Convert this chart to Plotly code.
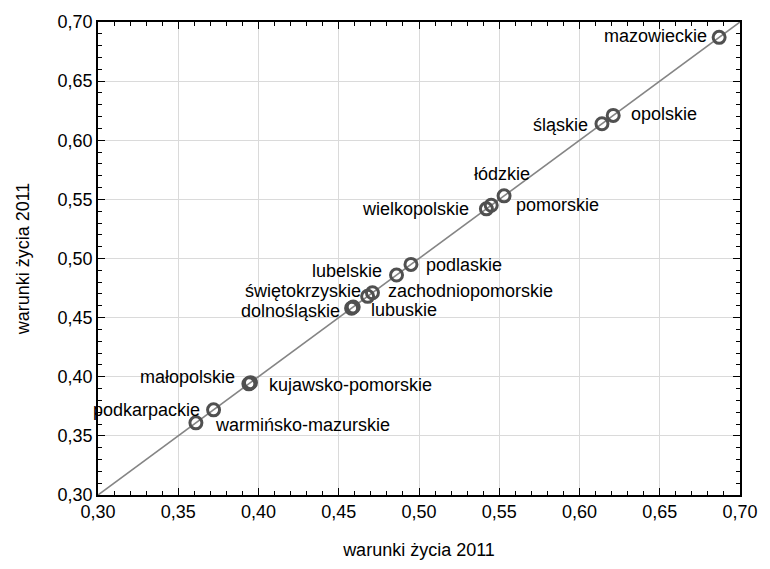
import plotly.graph_objects as go

# Voivodeship living-conditions index, 2011 (same measure on both axes)
regions = [
    "mazowieckie", "opolskie", "śląskie", "pomorskie", "łódzkie",
    "wielkopolskie", "podlaskie", "lubelskie", "zachodniopomorskie",
    "świętokrzyskie", "lubuskie", "dolnośląskie", "małopolskie",
    "kujawsko-pomorskie", "podkarpackie", "warmińsko-mazurskie",
]
warunki_2011 = [
    0.687, 0.621, 0.614, 0.553, 0.545,
    0.542, 0.495, 0.486, 0.471,
    0.468, 0.459, 0.458, 0.395,
    0.394, 0.372, 0.361,
]
tick_values = [0.30, 0.35, 0.40, 0.45, 0.50, 0.55, 0.60, 0.65, 0.70]
axis_title = "warunki życia 2011"

# label placement per point: (xanchor, yanchor, xshift, yshift)
label_place = {
    "mazowieckie": ("right", "middle", -11, 1),
    "opolskie": ("left", "middle", 17, 1),
    "śląskie": ("right", "middle", -13, -1),
    "pomorskie": ("left", "middle", 11, -9),
    "łódzkie": ("center", "bottom", 11, 20),
    "wielkopolskie": ("right", "middle", -16, 0),
    "podlaskie": ("left", "middle", 14, -1),
    "lubelskie": ("right", "middle", -14, 4),
    "zachodniopomorskie": ("left", "middle", 15, 2),
    "świętokrzyskie": ("right", "middle", -6, 5),
    "lubuskie": ("left", "middle", 17, -3),
    "dolnośląskie": ("right", "middle", -11, -3),
    "małopolskie": ("right", "middle", -14, 6),
    "kujawsko-pomorskie": ("left", "middle", 19, -1),
    "podkarpackie": ("right", "middle", -13, 0),
    "warmińsko-mazurskie": ("left", "middle", 18, -2),
}

FONT = "Liberation Sans, Arial, sans-serif"
FS = 18
lo, hi = tick_values[0], tick_values[-1]
ring = "#505050"

fig = go.Figure()

# identity line y = x
fig.add_trace(go.Scatter(
    x=[lo, hi], y=[lo, hi], mode="lines",
    line=dict(color="#858585", width=1.6),
    hoverinfo="skip", showlegend=False,
))

fig.add_trace(go.Scatter(
    x=warunki_2011, y=warunki_2011, mode="markers",
    marker=dict(symbol="circle-open", size=12, color=ring,
                line=dict(color=ring, width=3)),
    text=regions, hoverinfo="text", showlegend=False,
))

for name, v in zip(regions, warunki_2011):
    xa, ya, dx, dy = label_place[name]
    fig.add_annotation(
        x=v, y=v, text=name, showarrow=False,
        xanchor=xa, yanchor=ya, xshift=dx, yshift=dy, borderpad=0,
        font=dict(family=FONT, size=FS, color="#000000"),
    )

axis_common = dict(
    range=[lo, hi],
    tickvals=tick_values,
    tickformat=".2f",
    showline=True, linecolor="#000000", linewidth=1.6,
    mirror="ticks",
    ticks="inside", ticklen=7, tickwidth=1.3, tickcolor="#000000",
    minor=dict(dtick=0.01, ticks="inside", ticklen=4, tickwidth=1.1,
               tickcolor="#000000", showgrid=False),
    showgrid=True, gridcolor="#dadada", gridwidth=1,
    zeroline=False,
    tickfont=dict(family=FONT, size=FS, color="#000000"),
)

fig.update_xaxes(**axis_common,
                 title=dict(text=axis_title, standoff=22,
                            font=dict(family=FONT, size=FS, color="#000000")))
fig.update_yaxes(**axis_common,
                 title=dict(text=axis_title, standoff=23,
                            font=dict(family=FONT, size=FS, color="#000000")))

fig.update_layout(
    width=770, height=569,
    margin=dict(l=98, r=26, t=19, b=74),
    plot_bgcolor="#ffffff", paper_bgcolor="#ffffff",
    separators=", ",
    font=dict(family=FONT, size=FS, color="#000000"),
)

fig.write_html("out.html")
